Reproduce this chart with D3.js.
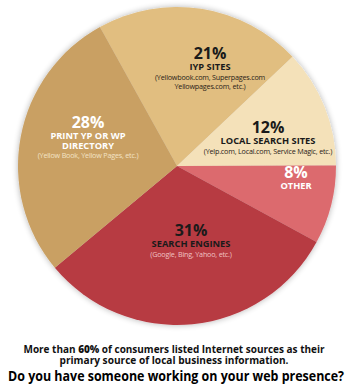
<!DOCTYPE html>
<html>
<head>
<meta charset="utf-8">
<script src="https://cdn.jsdelivr.net/npm/d3@7"></script>
<style>
  html, body { margin: 0; padding: 0; background: #fff; }
  svg { display: block; font-family: "Open Sans", "Noto Sans", sans-serif; }
</style>
</head>
<body>
<svg id="chart" width="353" height="391"></svg>
<script>
// slice data, clockwise from the top-left
var categories = ["IYP SITES", "LOCAL SEARCH SITES", "OTHER", "SEARCH ENGINES", "PRINT YP OR WP DIRECTORY"]
var shares = [21, 12, 8, 31, 28]
var titleLines = [["IYP SITES"], ["LOCAL SEARCH SITES"], ["OTHER"], ["SEARCH ENGINES"], ["PRINT YP OR WP", "DIRECTORY"]]
var noteLines = [
    ["(Yellowbook.com, Superpages.com", "Yellowpages.com, etc.)"],
    ["(Yelp.com, Local.com, Service Magic, etc.)"],
    [],
    ["(Google, Bing, Yahoo, etc.)"],
    ["(Yellow Book, Yellow Pages, etc.)"]
]
var footLines = [["More than ", "60%", " of consumers listed Internet sources as their"], ["primary source of local business information."]]
var question = "Do you have someone working on your web presence?"

var width = 353, height = 391
var cx = 177, cy = 166, radius = 159

var colors = ["#e1be80", "#f4e1b9", "#dc6a6e", "#b73b43", "#c9a063"]
// label styling per slice: [text colour, note colour]
var inkColors = [["#1a1a1a", "#2a2218"], ["#1a1a1a", "#2a2218"], ["#ffffff", "#ffffff"], ["#1a1a1a", "#f1c2c2"], ["#ffffff", "#f3e3c6"]]
// label anchor (centre of the "xx%" baseline), relative to pie centre
var labelAnchor = [[33, -107], [91, -33], [119, 12], [14, 70], [-89, -38]]

var svg = d3.select("#chart")

var defs = svg.append("defs")
var shadow = defs.append("filter").attr("id", "shadow")
    .attr("x", "-10%").attr("y", "-10%").attr("width", "120%").attr("height", "120%")
shadow.append("feGaussianBlur").attr("in", "SourceAlpha").attr("stdDeviation", 3).attr("result", "blur")
shadow.append("feComponentTransfer").append("feFuncA").attr("type", "linear").attr("slope", 0.3)
var merge = shadow.append("feMerge")
merge.append("feMergeNode")
merge.append("feMergeNode").attr("in", "SourceGraphic")

var start = -29 * Math.PI / 180
var pie = d3.pie()
    .sort(null)
    .startAngle(start)
    .endAngle(start + 2 * Math.PI)
    .value(function (d) { return d; });

var arc = d3.arc()
    .outerRadius(radius)
    .innerRadius(0);

var g = svg.append("g")
    .attr("transform", "translate(" + cx + "," + cy + ")");

g.append("g").attr("filter", "url(#shadow)")
    .selectAll("path")
    .data(pie(shares))
    .enter().append("path")
    .attr("d", arc)
    .style("fill", function (d, i) { return colors[i]; })

var labels = g.selectAll(".label")
    .data(pie(shares))
    .enter().append("g")
    .attr("class", "label")
    .attr("transform", function (d, i) { return "translate(" + labelAnchor[i] + ")"; })
    .attr("text-anchor", "middle")

labels.append("text")
    .attr("font-size", 16)
    .attr("font-weight", 700)
    .style("fill", function (d, i) { return inkColors[i][0]; })
    .text(function (d, i) { return shares[i] + "%"; })

labels.each(function (d, i) {
    var sel = d3.select(this)
    var y = 1.5
    titleLines[i].forEach(function (t) {
        y += 9.5
        sel.append("text")
            .attr("y", y)
            .attr("font-size", 9.3)
            .attr("font-weight", 700)
            .style("fill", inkColors[i][0])
            .text(t)
    })
    noteLines[i].forEach(function (t) {
        y += 9.5
        sel.append("text")
            .attr("y", y)
            .attr("font-size", 7.2)
            .attr("letter-spacing", -0.2)
            .style("fill", inkColors[i][1])
            .text(t)
    })
})

var footWidths = [301, 229]
svg.selectAll(".foot")
    .data(footLines)
    .enter().append("text")
    .attr("class", "foot")
    .attr("x", 174)
    .attr("y", function (d, i) { return 353 + i * 11; })
    .attr("text-anchor", "middle")
    .attr("font-size", 10.5)
    .attr("font-weight", 700)
    .attr("textLength", function (d, i) { return footWidths[i]; })
    .attr("lengthAdjust", "spacingAndGlyphs")
    .style("fill", "#111")
    .selectAll("tspan")
    .data(function (d) { return d; })
    .enter().append("tspan")
    .attr("font-weight", function (d) { return /%/.test(d) ? 800 : null; })
    .text(function (d) { return d; })

svg.append("text")
    .attr("x", 176)
    .attr("y", 381)
    .attr("text-anchor", "middle")
    .attr("font-size", 15)
    .attr("font-weight", 700)
    .attr("textLength", 336)
    .attr("lengthAdjust", "spacingAndGlyphs")
    .style("fill", "#000")
    .text(question)
</script>
</body>
</html>
